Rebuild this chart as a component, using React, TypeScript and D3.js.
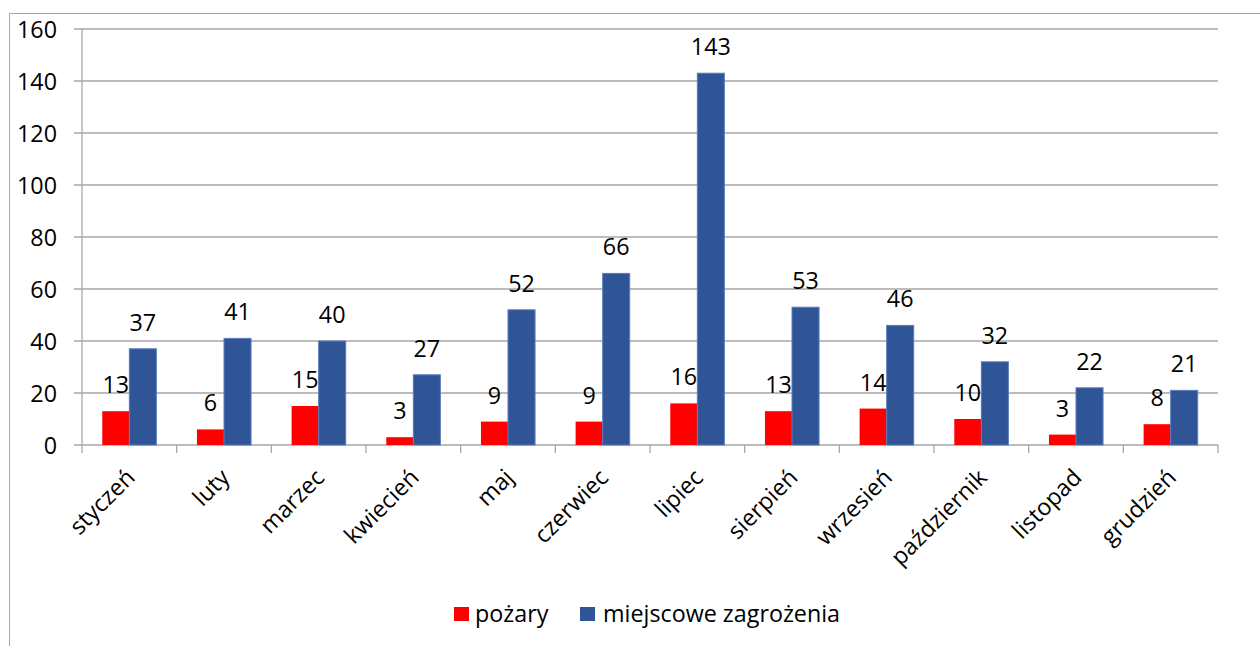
import React from 'react'
import * as d3 from 'd3'

// months on the x axis
const months = [
  'styczeń',
  'luty',
  'marzec',
  'kwiecień',
  'maj',
  'czerwiec',
  'lipiec',
  'sierpień',
  'wrzesień',
  'październik',
  'listopad',
  'grudzień',
]

// series values
const pozary = [13, 6, 15, 3, 9, 9, 16, 13, 14, 10, 4, 8]
const zagrozenia = [37, 41, 40, 27, 52, 66, 143, 53, 46, 32, 22, 21]

// data labels as printed on the chart
const pozaryLabels = ['13', '6', '15', '3', '9', '9', '16', '13', '14', '10', '3', '8']

const seriesNames = ['pożary', 'miejscowe zagrożenia']
const seriesColors = ['#FF0000', '#2F5597']

const yTicks = [0, 20, 40, 60, 80, 100, 120, 140, 160]

const FONT = '"Open Sans", sans-serif'
const FS = 23.3

export default function App() {
  const width = 1260
  const height = 646

  // plot area
  const left = 82
  const right = 1218
  const top = 29
  const bottom = 445

  const x = d3.scaleBand<string>().domain(months).range([left, right])
  const bw = x.bandwidth()
  const barW = bw / 3.5
  const xs = d3
    .scaleBand<string>()
    .domain(seriesNames)
    .range([(bw - 2 * barW) / 2, (bw + 2 * barW) / 2])

  const y = d3.scaleLinear().domain([0, 160]).range([bottom, top])

  const series = [pozary, zagrozenia]
  const labels = [pozaryLabels, zagrozenia.map(String)]

  const boundaries = d3.range(months.length + 1).map((i) => left + i * bw)

  return (
    <svg
      width={width}
      height={height}
      style={{ position: 'absolute', left: 0, top: 0, background: '#fff' }}
      fontFamily={FONT}
    >
      {/* outer chart border */}
      <line x1={9.5} x2={width} y1={13.5} y2={13.5} stroke="#a6a6a6" />
      <line x1={9.5} x2={9.5} y1={13.5} y2={height} stroke="#a6a6a6" />

      {/* gridlines + y ticks */}
      {yTicks.map((t) => (
        <g key={t}>
          <line
            x1={left - 8}
            x2={right}
            y1={y(t)}
            y2={y(t)}
            stroke="#a6a6a6"
            strokeWidth={1.3}
          />
          <text
            x={57}
            y={y(t)}
            textAnchor="end"
            dominantBaseline="central"
            fontSize={FS}
            fill="#000"
          >
            {t}
          </text>
        </g>
      ))}

      {/* y axis line */}
      <line x1={left} x2={left} y1={top} y2={bottom} stroke="#a6a6a6" strokeWidth={1.3} />

      {/* category ticks */}
      {boundaries.map((b, i) => (
        <line key={i} x1={b} x2={b} y1={bottom} y2={bottom + 8} stroke="#a6a6a6" strokeWidth={1.3} />
      ))}

      {/* bars */}
      {series.map((vals, si) => (
        <g key={si}>
          {vals.map((v, i) => {
            const bx = (x(months[i]) ?? 0) + (xs(seriesNames[si]) ?? 0)
            return (
              <rect
                key={i}
                x={bx}
                y={y(v)}
                width={xs.bandwidth()}
                height={bottom - y(v)}
                fill={seriesColors[si]}
                stroke={si === 1 ? '#5a7dbd' : 'none'}
                strokeWidth={1}
              />
            )
          })}
        </g>
      ))}

      {/* data labels */}
      {series.map((vals, si) => (
        <g key={si}>
          {vals.map((v, i) => {
            const cx = (x(months[i]) ?? 0) + (xs(seriesNames[si]) ?? 0) + xs.bandwidth() / 2
            return (
              <text key={i} x={cx} y={y(v) - 18} textAnchor="middle" fontSize={FS} fill="#000">
                {labels[si][i]}
              </text>
            )
          })}
        </g>
      ))}

      {/* category labels */}
      {months.map((m) => {
        const cx = (x(m) ?? 0) + bw / 2
        return (
          <text
            key={m}
            transform={`translate(${cx + 7},${479}) rotate(-45)`}
            textAnchor="end"
            fontSize={FS}
            fill="#000"
          >
            {m}
          </text>
        )
      })}

      {/* legend */}
      <g>
        <rect x={454} y={607} width={15} height={14} fill={seriesColors[0]} />
        <text x={475} y={622} fontSize={FS} fill="#000">
          {seriesNames[0]}
        </text>
        <rect x={580} y={607} width={15} height={14} fill={seriesColors[1]} />
        <text x={603} y={622} fontSize={FS} fill="#000">
          {seriesNames[1]}
        </text>
      </g>
    </svg>
  )
}
